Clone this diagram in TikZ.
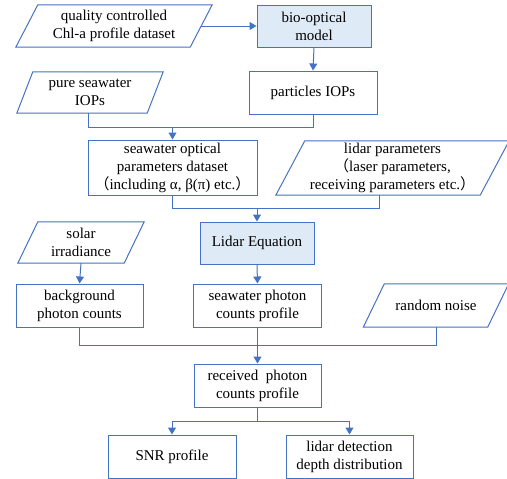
\documentclass[tikz,border=0pt]{standalone}
\usepackage{fontspec}
\setmainfont{Liberation Serif}
\newfontfamily\cjk{Noto Sans CJK SC}
\usetikzlibrary{arrows.meta,calc}
\definecolor{lineblue}{RGB}{68,114,196}
\definecolor{fillblue}{RGB}{222,234,246}
\tikzset{
  every node/.style={font=\fontsize{15}{18}\selectfont, align=center, inner sep=0pt},
  box/.style={draw=lineblue, line width=1pt, rectangle, fill=white},
  hbox/.style={box, fill=fillblue},
  paranode/.style={rectangle, draw=none},
  conn/.style={draw=lineblue, line width=1pt},
  arr/.style={conn, -{Triangle[width=8pt,length=7pt]}},
}
\newcommand\drawpara[2]{\draw[conn] ([xshift=#2pt]#1.north west) -- ([xshift=#2pt]#1.north east) -- ([xshift=-#2pt]#1.south east) -- ([xshift=-#2pt]#1.south west) -- cycle;}
\begin{document}
\begin{tikzpicture}[x=1pt,y=-1pt]
\useasboundingbox (0,0) rectangle (507,479);
% parallelograms
\node[paranode, minimum width=174pt, minimum height=42pt] (q) at (114,26) {quality controlled\\Chl-a profile dataset};
\drawpara{q}{11}
\node[paranode, minimum width=130pt, minimum height=41pt] (pw) at (90,92.5) {pure seawater\\IOPs};
\drawpara{pw}{8}
\node[paranode, minimum width=204pt, minimum height=54pt] (lp) at (392.5,168) {lidar parameters\\{\cjk （}laser parameters,\\receiving parameters etc.{\cjk ）}};
\drawpara{lp}{14.5}
\node[paranode, minimum width=106pt, minimum height=41pt] (so) at (81,242.5) {solar\\irradiance};
\drawpara{so}{10}
\node[paranode, minimum width=124pt, minimum height=43pt] (rn) at (436,305.5) {random noise};
\drawpara{rn}{10.5}
% boxes
\node[hbox, minimum width=114pt, minimum height=42pt] (bio) at (314,26) {bio-optical\\model};
\node[box, minimum width=128pt, minimum height=43pt] (part) at (313,92.5) {particles IOPs};
\node[box, minimum width=169pt, minimum height=55pt] (sop) at (172.5,167.5) {seawater optical\\parameters dataset\\{\cjk （}including α, β(π) etc.{\cjk ）}};
\node[hbox, minimum width=114pt, minimum height=42pt] (le) at (257,243) {Lidar Equation};
\node[box, minimum width=127pt, minimum height=43pt] (bg) at (79.5,305.5) {background\\photon counts};
\node[box, minimum width=128pt, minimum height=43pt] (swp) at (257.5,305.5) {seawater photon\\counts profile};
\node[box, minimum width=127pt, minimum height=43pt] (rec) at (257.5,385.5) {received~ photon\\counts profile};
\node[box, minimum width=128pt, minimum height=43pt] (snr) at (172,456.5) {SNR profile};
\node[box, minimum width=127pt, minimum height=43pt] (ldd) at (349.5,456.5) {lidar detection\\depth distribution};
% junctions
\coordinate (j1) at (172.5,127);
\coordinate (j2) at (257,208);
\coordinate (j3) at (257.5,345);
\coordinate (j4) at (257.5,421);
% connectors
\draw[arr] (q.east) -- (bio.west);
\draw[arr] (bio.south) -- (part.north);
\draw[conn] ([xshift=-2pt]pw.south) |- (j1);
\draw[conn] (part.south) |- (j1);
\draw[arr] (j1) -- (sop.north);
\draw[conn] (sop.south) |- (j2);
\draw[conn] ([xshift=-13.5pt]lp.south) |- (j2);
\draw[arr] (j2) -- (le.north);
\draw[arr] (so.south) -- (bg.north);
\draw[arr] (le.south) -- (swp.north);
\draw[conn] (bg.south) |- (j3);
\draw[conn] (rn.south) |- (j3);
\draw[arr] (swp.south) -- (rec.north);
\draw[conn] (rec.south) -- (j4);
\draw[arr] (j4) -| (snr.north);
\draw[arr] (j4) -| (ldd.north);
\end{tikzpicture}
\end{document}
